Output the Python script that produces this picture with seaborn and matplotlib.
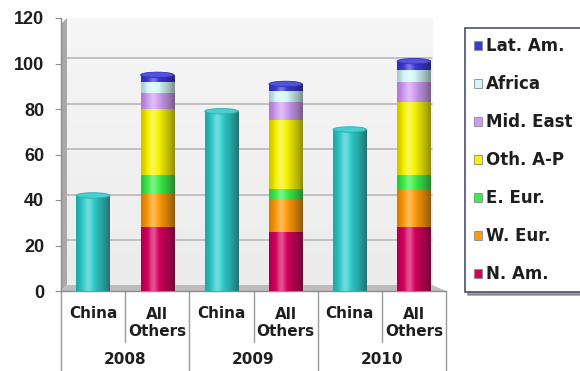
import numpy as np
import pandas as pd
import matplotlib
matplotlib.use("Agg")
import matplotlib.pyplot as plt
import matplotlib.colors as mcolors
from matplotlib.patches import Patch, Polygon, Ellipse
from matplotlib.lines import Line2D
from matplotlib.transforms import blended_transform_factory
import seaborn as sns

# ---- data -------------------------------------------------------------
years = ["2008", "2009", "2010"]
china = [42, 79, 71]

n_am = [28, 26, 28]
w_eur = [15, 14, 17]
e_eur = [8, 5, 6]
oth_ap = [29, 30, 32]
mid_east = [7, 8, 9]
africa = [5, 5, 5]
lat_am = [3, 3, 4]

region_names = ["N. Am.", "W. Eur.", "E. Eur.", "Oth. A-P", "Mid. East", "Africa", "Lat. Am."]
region_values = [n_am, w_eur, e_eur, oth_ap, mid_east, africa, lat_am]
region_colors = ["#d4005e", "#ff9a0a", "#3ded4a", "#f7f200", "#cf9cf2", "#d2f7f7", "#3a3ad6"]
china_color = "#2fcaca"

y_ticks = [0, 20, 40, 60, 80, 100, 120]

# ---- figure -----------------------------------------------------------
sns.set_theme(style="white")
plt.rcParams["font.family"] = ["DejaVu Sans"]
TICK_FONT = ["Liberation Sans", "DejaVu Sans"]
TEXT_COLOR = "#1e1e1e"

W, H = 580, 371
fig = plt.figure(figsize=(W / 100, H / 100), dpi=100)
fig.patch.set_facecolor("white")

ax_left, ax_right, ax_bottom, ax_top = 61, 446, 291, 18
ax = fig.add_axes([ax_left / W, 1 - ax_bottom / H,
                   (ax_right - ax_left) / W, (ax_bottom - ax_top) / H])
ax.set_facecolor("white")

slot_order = []
for y in years:
    slot_order += [f"China {y}", f"All Others {y}"]

china_df = pd.DataFrame({"slot": [f"China {y}" for y in years], "value": china})
sns.barplot(data=china_df, x="slot", y="value", order=slot_order, color=china_color,
            saturation=1, width=0.52, errorbar=None, linewidth=0, zorder=3, ax=ax)

stack_base = np.zeros(len(years))
for vals, col in zip(region_values, region_colors):
    df = pd.DataFrame({"slot": [f"All Others {y}" for y in years], "value": vals})
    sns.barplot(data=df, x="slot", y="value", order=slot_order, color=col,
                saturation=1, width=0.52, errorbar=None, linewidth=0, zorder=3,
                bottom=stack_base.copy(), ax=ax)
    stack_base += np.array(vals)

# ---- cylinder shading on every bar --------------------------------------
t = np.linspace(0, 1, 80)
shade = -0.42 * (np.abs(t - 0.38) / 0.62) ** 1.6 + 0.32 * np.exp(-((t - 0.36) / 0.13) ** 2)


def shaded_strip(rgb):
    out = np.empty((1, t.size, 3))
    for i, s in enumerate(shade):
        out[0, i] = rgb * (1 + s) if s < 0 else rgb + (1 - rgb) * s
    return np.clip(out, 0, 1)


tops = {}
for p in list(ax.patches):
    h = p.get_height()
    if not np.isfinite(h) or h <= 0:
        continue
    x0, y0, w = p.get_x(), p.get_y(), p.get_width()
    rgb = np.array(mcolors.to_rgb(p.get_facecolor()))
    ax.imshow(shaded_strip(rgb), extent=(x0, x0 + w, y0, y0 + h), aspect="auto",
              interpolation="bilinear", zorder=3.1)
    key = round(x0, 3)
    if key not in tops or y0 + h > tops[key][1]:
        tops[key] = (w, y0 + h, rgb)

# elliptical caps on top of each column
for x0, (w, top, rgb) in tops.items():
    cap = rgb + (1 - rgb) * 0.12
    ax.add_patch(Ellipse((x0 + w / 2, top), w, 2.4, facecolor=cap,
                         edgecolor=rgb * 0.85, lw=0.6, zorder=3.3))

# ---- walls, floor and gridlines ------------------------------------------
wall_w = 6 / (ax_right - ax_left)
depth = 6 / (ax_bottom - ax_top)
back_right = (432 - ax_left) / (ax_right - ax_left)

grad = np.linspace(0.925, 0.965, 50)[:, None] * np.ones((1, 50))
ax.imshow(np.dstack([grad, grad, grad]), extent=(wall_w, back_right, depth, 1),
          origin="lower", transform=ax.transAxes, aspect="auto", zorder=0.2,
          interpolation="bilinear")
ax.add_patch(Polygon([(0, 0), (wall_w, depth), (wall_w, 1), (0, 1 - depth)],
                     closed=True, transform=ax.transAxes, facecolor="#a9a9a9",
                     edgecolor="none", zorder=0.3))
ax.add_patch(Polygon([(0, 0), (wall_w, depth), (back_right, depth), (1, 0)],
                     closed=True, transform=ax.transAxes, facecolor="#bdbdbd",
                     edgecolor="none", zorder=0.3))
for v in y_ticks[1:]:
    ax.axhline(v + 2.2, xmin=wall_w, xmax=back_right, color="#b3b3b3", lw=1.1, zorder=0.5)

ax.set_xlim(-0.5, 5.5)
ax.set_ylim(0, 120)

# ---- axes styling ----------------------------------------------------------
for side in ["top", "right"]:
    ax.spines[side].set_visible(False)
for side in ["left", "bottom"]:
    ax.spines[side].set_color("#8c8c8c")
    ax.spines[side].set_linewidth(1)
ax.set_yticks(y_ticks)
ax.set_yticklabels([str(v) for v in y_ticks], fontsize=13, fontweight="bold",
                   color=TEXT_COLOR, family=TICK_FONT)
ax.tick_params(axis="y", which="major", left=True, length=4, width=0.8, color="#8c8c8c", pad=8)
ax.set_xticks([])
ax.set_xlabel("")
ax.set_ylabel("")

# ---- category table under the axis -------------------------------------------
tr = blended_transform_factory(ax.transData, fig.transFigure)


def fy(py):
    return 1 - py / H


for i, name in enumerate(slot_order):
    if name.startswith("China"):
        ax.text(i, fy(313), "China", transform=tr, ha="center", va="center",
                fontsize=11, fontweight="bold", color=TEXT_COLOR)
    else:
        ax.text(i, fy(323), "All\nOthers", transform=tr, ha="center", va="center",
                fontsize=11, fontweight="bold", color=TEXT_COLOR, linespacing=1.15)

for g, y in enumerate(years):
    ax.text(2 * g + 0.5, fy(360), y, transform=tr, ha="center", va="center",
            fontsize=11, fontweight="bold", color=TEXT_COLOR)

for k in range(7):
    xb = k - 0.5
    bottom_px = H if k % 2 == 0 else 342
    ax.add_line(Line2D([xb, xb], [fy(ax_bottom), fy(bottom_px)], transform=tr,
                       color="#9a9a9a", lw=1, clip_on=False))

# ---- legend ---------------------------------------------------------------
handles = [Patch(facecolor=c, edgecolor="#8a8a8a", lw=0.6, label=n)
           for n, c in zip(region_names, region_colors)][::-1]
leg = fig.legend(handles=handles, loc="upper left", bbox_to_anchor=(465 / W, 1 - 28 / H),
                 frameon=True, fancybox=False, shadow=True,
                 prop={"weight": "bold", "size": 12}, handlelength=0.48, handleheight=0.48,
                 handletextpad=0.25, labelspacing=1.2, borderpad=0.55, borderaxespad=0)
leg.get_frame().set_edgecolor("#4c4f6e")
leg.get_frame().set_linewidth(1.2)
for txt in leg.get_texts():
    txt.set_color(TEXT_COLOR)

fig.savefig("out.png", dpi=100)
